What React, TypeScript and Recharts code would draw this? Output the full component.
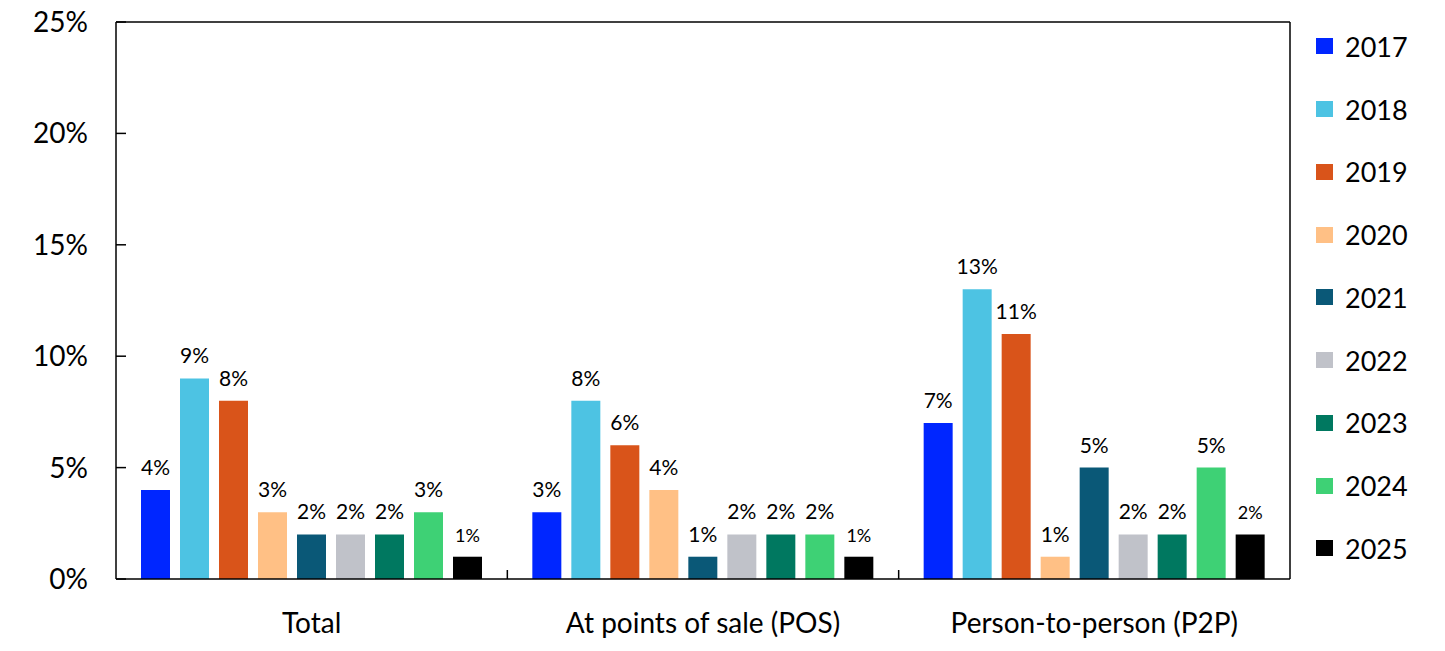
import React from 'react';
import {
  BarChart, Bar, XAxis, YAxis, Legend, LabelList
} from 'recharts';

const categories = ['Total', 'At points of sale (POS)', 'Person-to-person (P2P)'];
const years = ['2017', '2018', '2019', '2020', '2021', '2022', '2023', '2024', '2025'];
const totalValues = [4, 9, 8, 3, 2, 2, 2, 3, 1];
const posValues = [3, 8, 6, 4, 1, 2, 2, 2, 1];
const p2pValues = [7, 13, 11, 1, 5, 2, 2, 5, 2];
const yTicks = [0, 5, 10, 15, 20, 25];

const COLORS = ['#0026ff', '#4dc3e3', '#d9541a', '#ffc085', '#0a5877', '#c0c2c9', '#007860', '#3ed175', '#000000'];
const FONT = 'Lato, "Open Sans", sans-serif';
const AXIS_LINE = { stroke: '#000', strokeWidth: 1.5 };

const CHART_W = 1445;
const CHART_H = 651;
const MARGIN = { top: 21, right: 154, bottom: 0, left: 0 };
const Y_AXIS_W = 116;
const X_AXIS_H = 72;
const PLOT_W = CHART_W - MARGIN.left - MARGIN.right - Y_AXIS_W - 1;
const BAND = PLOT_W / categories.length;

const seriesByCategory = [totalValues, posValues, p2pValues];
const data = categories.map((name, i) => {
  const row: Record<string, string | number> = { name };
  years.forEach((y, j) => { row[y] = seriesByCategory[i][j]; });
  return row;
});

// y ticks point into the plot, like the source
const renderYTick = (props: any) => {
  const x = Number(props.x);
  const y = Number(props.y);
  return (
    <g key={`yt-${props.index}`}>
      <path d={`M${x + 28},${y}H${x + 38}`} stroke="#000" strokeWidth={1.5} fill="none" />
      <text x={x} y={y} dy="0.355em" textAnchor="end" fontSize={28} fill="#000" fontFamily={FONT}>
        {`${props.payload.value}%`}
      </text>
    </g>
  );
};

// small upward ticks on the group boundaries
const renderXTick = (props: any) => {
  const x = Number(props.x);
  const y = Number(props.y);
  const axisY = y - 34;
  return (
    <g key={`xt-${props.index}`}>
      {props.index > 0 && (
        <line x1={x - BAND / 2} x2={x - BAND / 2} y1={axisY} y2={axisY - 9} stroke="#000" strokeWidth={1.5} />
      )}
      <text x={x} y={y} dy="0.71em" textAnchor="middle" fontSize={28} fill="#000" fontFamily={FONT}>
        {props.payload.value}
      </text>
    </g>
  );
};

const renderLegend = () => (
  <div style={{ fontFamily: FONT }}>
    {years.map((y, i) => (
      <div key={y} style={{ height: 62.75, display: 'flex', alignItems: 'center' }}>
        <span style={{ width: 17, height: 16, background: COLORS[i], display: 'inline-block', marginRight: 12 }} />
        <span style={{ fontSize: 27, color: '#000' }}>{y}</span>
      </div>
    ))}
  </div>
);

export default function App() {
  return (
    <div style={{ position: 'absolute', left: 0, top: 0, background: '#fff' }}>
      <BarChart
        width={CHART_W}
        height={CHART_H}
        data={data}
        margin={MARGIN}
        barGap={10}
        barSize={29}
        style={{ fontFamily: FONT }}
      >
        <XAxis
          dataKey="name"
          height={X_AXIS_H}
          tickLine={false}
          tickSize={0}
          tickMargin={34}
          axisLine={AXIS_LINE}
          tick={renderXTick}
        />
        <XAxis
          xAxisId="top"
          dataKey="name"
          orientation="top"
          height={1}
          tick={false}
          tickLine={false}
          axisLine={AXIS_LINE}
        />
        <YAxis
          domain={[0, 25]}
          ticks={yTicks}
          width={Y_AXIS_W}
          tickLine={false}
          tickSize={0}
          tickMargin={28}
          axisLine={AXIS_LINE}
          tick={renderYTick}
          interval={0}
        />
        <YAxis
          yAxisId="right"
          orientation="right"
          width={1}
          tick={false}
          tickLine={false}
          axisLine={AXIS_LINE}
        />
        <Legend
          layout="vertical"
          align="center"
          verticalAlign="middle"
          width={130}
          content={renderLegend}
          wrapperStyle={{ top: 15, left: 1316, width: 130 }}
        />
        {years.map((y, i) => (
          <Bar key={y} dataKey={y} fill={COLORS[i]} isAnimationActive={false}>
            <LabelList
              dataKey={y}
              position="top"
              offset={15}
              formatter={(v: any) => `${v}%`}
              fill="#000"
              fontSize={y === '2025' ? 18 : 21}
              fontFamily={FONT}
            />
          </Bar>
        ))}
      </BarChart>
    </div>
  );
}
